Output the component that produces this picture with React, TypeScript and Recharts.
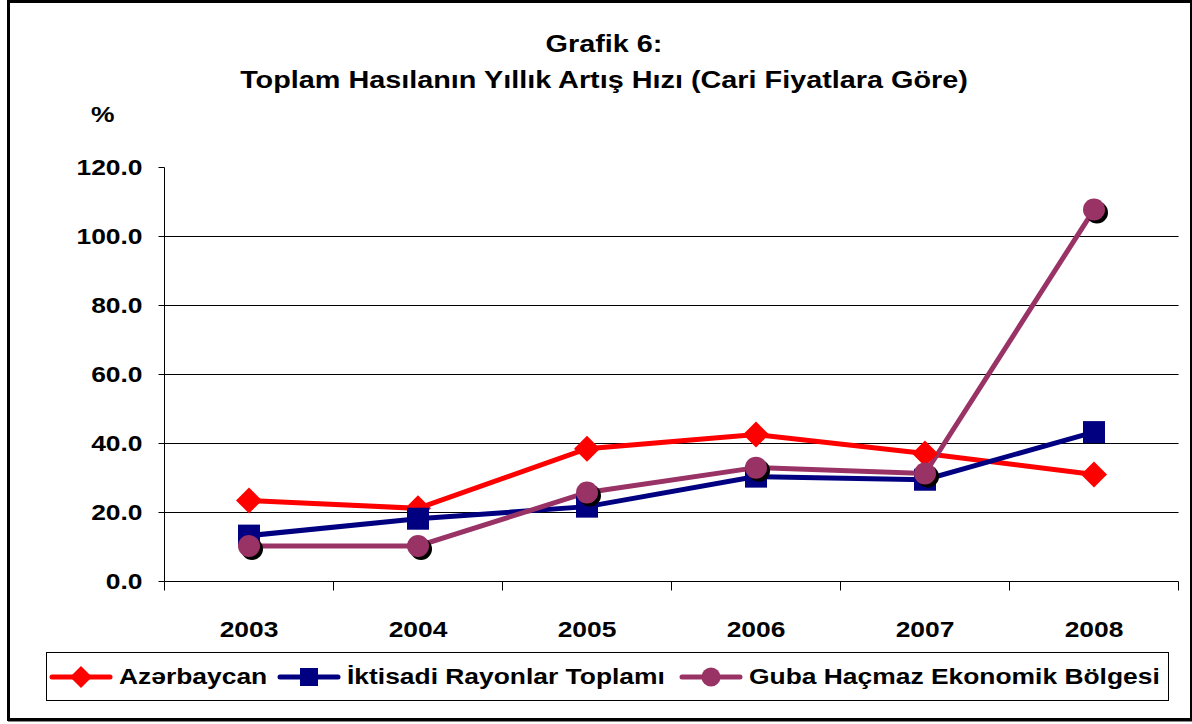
import React from "react";
import { LineChart, Line, XAxis, YAxis, CartesianGrid } from "recharts";

const years = [2003, 2004, 2005, 2006, 2007, 2008];
const azerbaycan = [23.5, 21.2, 38.5, 42.6, 37.1, 31.0];
const iktisadi = [13.3, 18.2, 21.7, 30.4, 29.5, 43.3];
const guba = [10.3, 10.3, 25.8, 33.0, 31.3, 107.8];
const yTicks = [0, 20, 40, 60, 80, 100, 120];
const xTicks = [2002.5, 2003, 2003.5, 2004, 2004.5, 2005, 2005.5, 2006, 2006.5, 2007, 2007.5, 2008, 2008.5];

const RED = "#FF0000";
const NAVY = "#000080";
const PURPLE = "#993366";
const FONT = "'Liberation Sans', Arial, sans-serif";
const STRETCH = 1.2;

const data = years.map((year, i) => ({
  year,
  az: azerbaycan[i],
  ik: iktisadi[i],
  gu: guba[i],
}));

const Diamond = (props: any) => {
  const { cx, cy } = props;
  if (cx == null || cy == null) return null;
  const r = 13;
  return (
    <path
      d={`M${cx},${cy - r} L${cx + r},${cy} L${cx},${cy + r} L${cx - r},${cy} Z`}
      fill={RED}
    />
  );
};

const Square = (props: any) => {
  const { cx, cy } = props;
  if (cx == null || cy == null) return null;
  return <rect x={cx - 11} y={cy - 11} width={22} height={22} fill={NAVY} />;
};

const ShadowDot = (props: any) => {
  const { cx, cy } = props;
  if (cx == null || cy == null) return null;
  return (
    <g>
      <circle cx={cx + 3} cy={cy + 3} r={11} fill="#000" />
      <circle cx={cx} cy={cy} r={11} fill={PURPLE} />
    </g>
  );
};

const stretchAt = (x: number) => `translate(${x},0) scale(${STRETCH},1) translate(${-x},0)`;

const XTick = (props: any) => {
  const { x, y, payload } = props;
  const v = payload.value as number;
  if (v % 1 !== 0) {
    return <line x1={x} y1={y} x2={x} y2={y + 9} stroke="#000" strokeWidth={1} />;
  }
  return (
    <text
      x={x}
      y={y + 56}
      textAnchor="middle"
      fontSize={22}
      fontWeight="bold"
      fontFamily={FONT}
      fill="#000"
      transform={stretchAt(x)}
    >
      {v}
    </text>
  );
};

const YTick = (props: any) => {
  const { x, y, payload } = props;
  return (
    <text
      x={x}
      y={y + 8}
      textAnchor="end"
      fontSize={22}
      fontWeight="bold"
      fontFamily={FONT}
      fill="#000"
      transform={stretchAt(x)}
    >
      {(payload.value as number).toFixed(1)}
    </text>
  );
};

function LegendItem({ left, color, marker, label }: { left: number; color: string; marker: string; label: string }) {
  return (
    <div style={{ position: "absolute", left, top: 0, height: 47, display: "flex", alignItems: "center" }}>
      <svg width={64} height={26} style={{ marginRight: 6 }}>
        <line x1={3} y1={13} x2={61} y2={13} stroke={color} strokeWidth={5} strokeLinecap="round" />
        {marker === "diamond" && <path d="M32,2 L43,13 L32,24 L21,13 Z" fill={color} />}
        {marker === "square" && <rect x={23} y={4} width={18} height={18} fill={color} />}
        {marker === "circle" && <circle cx={32} cy={13} r={9.5} fill={color} />}
      </svg>
      <span style={{ display: "inline-block", transform: `scaleX(${STRETCH})`, transformOrigin: "left center" }}>{label}</span>
    </div>
  );
}

export default function App() {
  return (
    <div style={{ position: "absolute", left: 0, top: 0, width: 1192, height: 724, background: "#fff", fontFamily: FONT }}>
      <div
        style={{
          position: "absolute",
          left: 7,
          top: 0,
          width: 1180,
          height: 715,
          border: "3px solid #000",
          boxShadow: "1px 1px 0 #888",
        }}
      />
      <div
        style={{
          position: "absolute",
          left: 0,
          width: 1208,
          top: 26,
          textAlign: "center",
          fontSize: 24,
          fontWeight: "bold",
          lineHeight: "36px",
          transform: `scaleX(${STRETCH})`,
          transformOrigin: "604px 0",
        }}
      >
        Grafik 6:
        <br />
        Toplam Hasılanın Yıllık Artış Hızı (Cari Fiyatlara Göre)
      </div>
      <div
        style={{
          position: "absolute",
          left: 91,
          top: 102,
          fontSize: 22,
          fontWeight: "bold",
          transform: `scaleX(${STRETCH})`,
          transformOrigin: "left top",
        }}
      >
        %
      </div>
      <div style={{ position: "absolute", left: 0, top: 0 }}>
        <LineChart width={1192} height={724} data={data} margin={{ top: 167.5, right: 13.5, bottom: 82.5, left: 0.5 }}>
          <CartesianGrid vertical={false} horizontalValues={[20, 40, 60, 80, 100]} stroke="#000" strokeWidth={1} />
          <XAxis
            dataKey="year"
            type="number"
            domain={[2002.5, 2008.5]}
            ticks={xTicks}
            interval={0}
            tickLine={false}
            tickSize={0}
            tickMargin={0}
            axisLine={{ stroke: "#000", strokeWidth: 1 }}
            tick={<XTick />}
            height={60}
          />
          <XAxis xAxisId="top" orientation="top" dataKey="year" type="number" domain={[2002.5, 2008.5]} tick={false} tickLine={false} axisLine={{ stroke: "#999", strokeWidth: 1.5 }} height={0} />
          <YAxis
            domain={[0, 120]}
            ticks={yTicks}
            interval={0}
            width={164}
            tickSize={6}
            tickMargin={16}
            tickLine={{ stroke: "#000" }}
            axisLine={{ stroke: "#000", strokeWidth: 1 }}
            tick={<YTick />}
          />
          <YAxis yAxisId="right" orientation="right" domain={[0, 120]} tick={false} tickLine={false} axisLine={{ stroke: "#999", strokeWidth: 1.5 }} width={0} />
          <Line dataKey="az" stroke={RED} strokeWidth={5} dot={<Diamond />} activeDot={false} isAnimationActive={false} />
          <Line dataKey="ik" stroke={NAVY} strokeWidth={5} dot={<Square />} activeDot={false} isAnimationActive={false} />
          <Line dataKey="gu" stroke={PURPLE} strokeWidth={5} dot={<ShadowDot />} activeDot={false} isAnimationActive={false} />
        </LineChart>
      </div>
      <div
        style={{
          position: "absolute",
          left: 46,
          top: 652,
          width: 1123,
          height: 49,
          border: "1px solid #000",
          boxSizing: "border-box",
          fontSize: 22,
          fontWeight: "bold",
          whiteSpace: "nowrap",
        }}
      >
        <LegendItem left={2} color={RED} marker="diamond" label="Azərbaycan" />
        <LegendItem left={230} color={NAVY} marker="square" label="İktisadi Rayonlar Toplamı" />
        <LegendItem left={632} color={PURPLE} marker="circle" label="Guba Haçmaz Ekonomik Bölgesi" />
      </div>
    </div>
  );
}
